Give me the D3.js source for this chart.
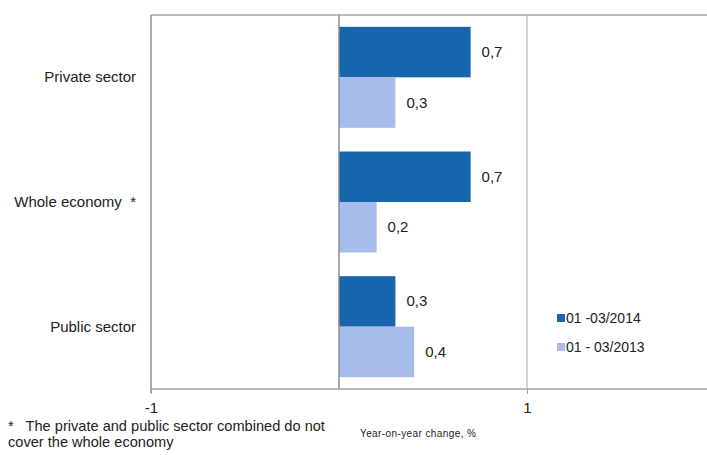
<!DOCTYPE html>
<html>
  <meta charset="utf-8">
  <head>
    <style>
        body {
              margin: 0;
              background: #fff;
              font-family: "Liberation Sans", Arial, sans-serif;
              }
    </style>
    <title>Year-on-year change</title>
    <script src="https://cdn.jsdelivr.net/npm/d3@7"></script>
  </head>
  <body>
    <script>
      var categories = ["Private sector", "Whole economy  *", "Public sector"];
      var seriesNames = ["01 -03/2014", "01 - 03/2013"];
      var values2014 = [0.7, 0.7, 0.3];
      var values2013 = [0.3, 0.2, 0.4];
      var tickValues = [-1, 1];
      var colors = ["#1765ad", "#a6bcea"];

      function chart() {
        var W = 707, H = 455;
        var left = 151, top = 15, bottom = 389;

        var svg = d3.select("body").append("svg")
                    .attr("width", W)
                    .attr("height", H);

        var x = d3.scaleLinear().domain([-1, 2]).range([left, left + 3 * 188]);
        var y = d3.scaleBand().domain(categories).range([top, bottom]).paddingInner(0.19).paddingOuter(0.095);
        var ySub = d3.scaleBand().domain([0, 1]).range([0, y.bandwidth()]);

        var comma = function(v) { return d3.format(".1f")(v).replace(".", ","); };

        // gridline at 1 and top border
        svg.append("line")
           .attr("x1", x(1)).attr("x2", x(1)).attr("y1", top).attr("y2", bottom)
           .attr("stroke", "#b4b4b4").attr("stroke-width", 1.2);
        svg.append("line")
           .attr("x1", left).attr("x2", W).attr("y1", top).attr("y2", top)
           .attr("stroke", "#a8a8a8").attr("stroke-width", 1.5);

        var rows = categories.map(function(c, i) { return [values2014[i], values2013[i]]; });

        var g = svg.selectAll("g.cat")
           .data(rows).enter().append("g")
           .attr("class", "cat")
           .attr("transform", function(d, i) { return "translate(0," + y(categories[i]) + ")"; });

        g.selectAll("rect")
           .data(function(d) { return d; })
           .enter().append("rect")
           .attr("x", function(d) { return x(Math.min(0, d)); })
           .attr("y", function(d, j) { return ySub(j); })
           .attr("width", function(d) { return Math.abs(x(d) - x(0)); })
           .attr("height", ySub.bandwidth())
           .attr("fill", function(d, j) { return colors[j]; });

        g.selectAll("text.val")
           .data(function(d) { return d; })
           .enter().append("text")
           .attr("class", "val")
           .attr("x", function(d) { return x(d) + 11; })
           .attr("y", function(d, j) { return ySub(j) + ySub.bandwidth() / 2 + 5; })
           .attr("font-size", "15px")
           .attr("fill", "#222")
           .text(comma);

        // zero line and left axis
        svg.append("line")
           .attr("x1", x(0)).attr("x2", x(0)).attr("y1", top).attr("y2", bottom)
           .attr("stroke", "#8c8c8c").attr("stroke-width", 1.5);
        svg.append("line")
           .attr("x1", left).attr("x2", left).attr("y1", top).attr("y2", bottom + 4)
           .attr("stroke", "#909090").attr("stroke-width", 1.5);

        // bottom axis
        var ax = svg.append("g")
           .attr("transform", "translate(0," + bottom + ")")
           .call(d3.axisBottom(x).tickValues(tickValues).tickSize(5).tickPadding(8)
                   .tickFormat(function(d) { return String(d); }));
        ax.select(".domain").attr("stroke", "#a0a0a0").attr("stroke-width", 1.5)
          .attr("d", "M" + left + ",0H" + W);
        ax.selectAll(".tick line").attr("stroke", "#a0a0a0");
        ax.selectAll(".tick text")
          .attr("font-family", "Liberation Sans, Arial, sans-serif")
          .attr("font-size", "15px").attr("fill", "#222");

        // category labels
        svg.selectAll("text.cat")
           .data(categories).enter().append("text")
           .attr("class", "cat")
           .attr("x", 136)
           .attr("y", function(d) { return y(d) + y.bandwidth() / 2 + 5; })
           .attr("text-anchor", "end")
           .attr("font-size", "15px")
           .attr("fill", "#222")
           .style("white-space", "pre")
           .text(function(d) { return d; });

        // legend
        var lg = svg.selectAll("g.leg")
           .data(seriesNames).enter().append("g")
           .attr("class", "leg")
           .attr("transform", function(d, i) { return "translate(557," + (318 + i * 29) + ")"; });
        lg.append("rect").attr("x", 0).attr("y", -4).attr("width", 8).attr("height", 8)
          .attr("fill", function(d, i) { return colors[i]; });
        lg.append("text").attr("x", 9).attr("y", 5)
          .attr("font-size", "14px").attr("fill", "#222")
          .text(function(d) { return d; });

        // footnote and axis title
        svg.append("text").attr("x", 8).attr("y", 431)
           .attr("font-size", "14.6px").attr("fill", "#222")
           .style("white-space", "pre")
           .text("*   The private and public sector combined do not");
        svg.append("text").attr("x", 8).attr("y", 447)
           .attr("font-size", "14.6px").attr("fill", "#222")
           .text("cover the whole economy");
        svg.append("text").attr("x", 360).attr("y", 437)
           .attr("font-size", "10px").attr("fill", "#222")
           .attr("letter-spacing", "0.4px")
           .text("Year-on-year change, %");
      }

      chart();
    </script>
  </body>
</html>
